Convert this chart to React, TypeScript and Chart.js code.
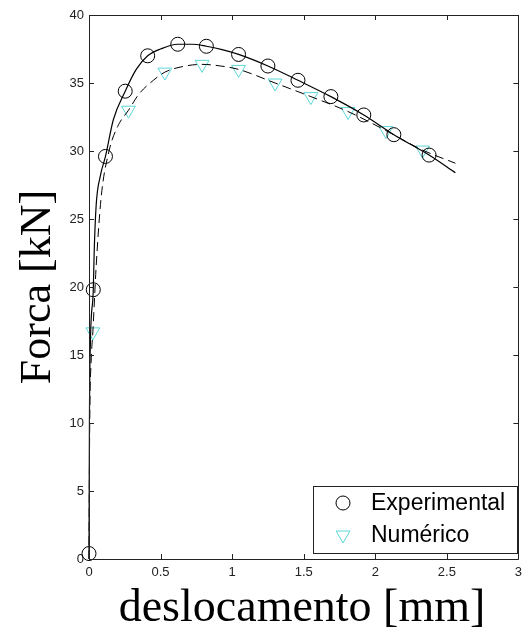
import React, { useEffect, useRef } from "react";
import { Chart, registerables } from "chart.js";

Chart.register(...registerables);

const xTicks = [0, 0.5, 1, 1.5, 2, 2.5, 3];
const yTicks = [0, 5, 10, 15, 20, 25, 30, 35, 40];

const expLineX = [0, 0.003, 0.01, 0.03, 0.036, 0.05, 0.08, 0.115, 0.17, 0.253, 0.33, 0.41, 0.5, 0.62, 0.72, 0.82, 0.93, 1.045, 1.25, 1.46, 1.69, 1.92, 2.13, 2.376, 2.56];
const expLineY = [0, 10, 16, 19.8, 22.5, 26, 28.2, 29.6, 32.3, 34.4, 36.0, 37.0, 37.5, 37.85, 37.85, 37.7, 37.45, 37.1, 36.25, 35.2, 34.0, 32.65, 31.2, 29.7, 28.4];

const expMarkX = [0, 0.03, 0.115, 0.253, 0.41, 0.62, 0.82, 1.045, 1.25, 1.46, 1.69, 1.92, 2.13, 2.376];
const expMarkY = [0.4, 19.8, 29.6, 34.4, 37.0, 37.85, 37.7, 37.1, 36.25, 35.2, 34.0, 32.65, 31.2, 29.7];

const numLineX = [0, 0.005, 0.015, 0.027, 0.05, 0.085, 0.14, 0.2, 0.276, 0.35, 0.45, 0.53, 0.65, 0.79, 0.92, 1.045, 1.3, 1.55, 1.81, 2.075, 2.33, 2.56];
const numLineY = [0, 10, 14.5, 16.7, 21.5, 26.6, 30.0, 31.8, 33.0, 34.2, 35.2, 35.8, 36.2, 36.37, 36.25, 36.0, 35.0, 34.0, 32.9, 31.5, 30.07, 29.1];

const numMarkX = [0.027, 0.276, 0.53, 0.79, 1.045, 1.3, 1.55, 1.81, 2.075, 2.33];
const numMarkY = [16.7, 33.0, 35.8, 36.37, 36.0, 35.0, 34.0, 32.9, 31.5, 30.07];

const seriesNames = ["Experimental", "Numérico"];
const xTitle = "deslocamento [mm]";
const yTitle = "Forca [kN]";

const CYAN = "#5cd6d6";

const zip = (xs: number[], ys: number[]) => xs.map((x, i) => ({ x, y: ys[i] }));

const overlayPlugin = {
  id: "overlay",
  afterDraw(chart: any) {
    const { ctx, chartArea: a, scales } = chart;
    const xs = scales.x;
    const ys = scales.y;
    ctx.save();
    // box
    ctx.strokeStyle = "#222";
    ctx.lineWidth = 1;
    ctx.beginPath();
    ctx.rect(Math.round(a.left) + 0.5, Math.round(a.top) + 0.5, Math.round(a.right - a.left), Math.round(a.bottom - a.top));
    ctx.stroke();
    // inward ticks
    const tl = 5;
    ctx.beginPath();
    xTicks.forEach((v) => {
      const px = Math.round(xs.getPixelForValue(v)) + 0.5;
      ctx.moveTo(px, a.bottom);
      ctx.lineTo(px, a.bottom - tl);
      ctx.moveTo(px, a.top);
      ctx.lineTo(px, a.top + tl);
    });
    yTicks.forEach((v) => {
      const py = Math.round(ys.getPixelForValue(v)) + 0.5;
      ctx.moveTo(a.left, py);
      ctx.lineTo(a.left + tl, py);
      ctx.moveTo(a.right, py);
      ctx.lineTo(a.right - tl, py);
    });
    ctx.stroke();

    // titles
    ctx.fillStyle = "#000";
    ctx.font = '46px "Liberation Serif"';
    ctx.textAlign = "center";
    ctx.textBaseline = "alphabetic";
    ctx.fillText(xTitle, 302, 621);
    ctx.save();
    ctx.translate(50, (a.top + a.bottom) / 2);
    ctx.rotate(-Math.PI / 2);
    ctx.font = '44px "Liberation Serif"';
    ctx.fillText(yTitle, 0, 0);
    ctx.restore();

    // legend
    const lx = 313, ly = 486, lw = 204, lh = 67;
    ctx.fillStyle = "#fff";
    ctx.fillRect(lx, ly, lw, lh);
    ctx.strokeStyle = "#222";
    ctx.strokeRect(lx + 0.5, ly + 0.5, lw, lh);
    // circle marker
    ctx.beginPath();
    ctx.strokeStyle = "#000";
    ctx.arc(343, 503, 7, 0, Math.PI * 2);
    ctx.stroke();
    // triangle marker (inverted)
    const r = 8, cx = 343, cy = 535;
    ctx.beginPath();
    ctx.strokeStyle = CYAN;
    for (let k = 0; k < 3; k++) {
      const ang = Math.PI / 2 + (k * 2 * Math.PI) / 3;
      const px = cx + r * Math.cos(ang);
      const py = cy + r * Math.sin(ang);
      if (k === 0) ctx.moveTo(px, py);
      else ctx.lineTo(px, py);
    }
    ctx.closePath();
    ctx.stroke();
    ctx.fillStyle = "#000";
    ctx.font = '23px "Liberation Sans"';
    ctx.textAlign = "left";
    ctx.textBaseline = "middle";
    ctx.fillText(seriesNames[0], 371, 504);
    ctx.fillText(seriesNames[1], 371, 536);
    ctx.restore();
  },
};

export default function App() {
  const ref = useRef<HTMLCanvasElement | null>(null);
  useEffect(() => {
    if (!ref.current) return;
    const chart = new Chart(ref.current, {
      type: "scatter",
      data: {
        datasets: [
          {
            label: seriesNames[0] + " line",
            data: zip(expLineX, expLineY),
            showLine: true,
            borderColor: "#000",
            borderWidth: 1.2,
            pointRadius: 0,
            cubicInterpolationMode: "monotone",
            clip: 10,
          },
          {
            label: seriesNames[1] + " line",
            data: zip(numLineX, numLineY),
            showLine: true,
            borderColor: "#000",
            borderWidth: 1,
            borderDash: [9, 5],
            pointRadius: 0,
            cubicInterpolationMode: "monotone",
            clip: 10,
          },
          {
            label: seriesNames[0],
            data: zip(expMarkX, expMarkY),
            showLine: false,
            pointStyle: "circle",
            pointRadius: 7,
            pointBorderColor: "#000",
            pointBackgroundColor: "rgba(0,0,0,0)",
            pointBorderWidth: 1,
            clip: 10,
          },
          {
            label: seriesNames[1],
            data: zip(numMarkX, numMarkY),
            showLine: false,
            pointStyle: "triangle",
            rotation: 180,
            pointRadius: 8,
            pointBorderColor: CYAN,
            pointBackgroundColor: "rgba(0,0,0,0)",
            pointBorderWidth: 1,
            clip: 10,
          },
        ],
      },
      options: {
        responsive: false,
        animation: false,
        layout: { padding: { top: 15, right: 6, left: 0, bottom: 0 } },
        plugins: { legend: { display: false }, tooltip: { enabled: false } },
        scales: {
          x: {
            type: "linear",
            min: 0,
            max: 3,
            grid: { display: false, drawTicks: false },
            border: { display: false },
            afterBuildTicks: (s: any) => {
              s.ticks = xTicks.map((v) => ({ value: v }));
            },
            afterFit: (s: any) => {
              s.height = 76;
            },
            ticks: {
              padding: 6,
              color: "#222",
              font: { family: "Liberation Sans", size: 13 },
              maxRotation: 0,
              callback: (v: any) => String(v),
            },
          },
          y: {
            type: "linear",
            min: 0,
            max: 40,
            grid: { display: false, drawTicks: false },
            border: { display: false },
            afterBuildTicks: (s: any) => {
              s.ticks = yTicks.map((v) => ({ value: v }));
            },
            afterFit: (s: any) => {
              s.width = 89;
            },
            ticks: {
              padding: 5,
              color: "#222",
              font: { family: "Liberation Sans", size: 13 },
              callback: (v: any) => String(v),
            },
          },
        },
      },
      plugins: [overlayPlugin],
    });
    return () => chart.destroy();
  }, []);
  return (
    <div style={{ position: "absolute", left: 0, top: 0, width: 528, height: 635, background: "#fff" }}>
      <canvas ref={ref} width={528} height={635} />
    </div>
  );
}
